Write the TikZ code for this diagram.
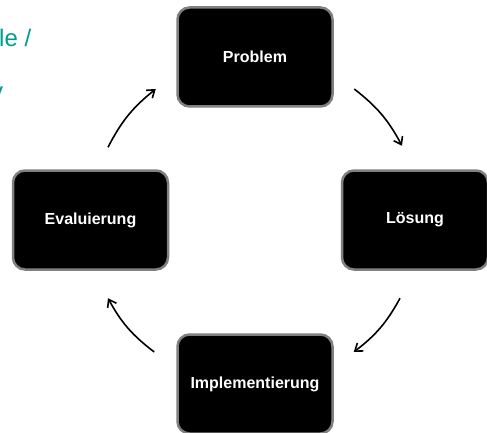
\documentclass[tikz,border=0pt]{standalone}
\usepackage{fontspec}
\setmainfont{Liberation Sans}
\usetikzlibrary{arrows.meta}
\usetikzlibrary{positioning}
\definecolor{titleteal}{RGB}{0,155,145}
\definecolor{boxgray}{RGB}{128,128,128}
\tikzset{stage/.style = {fill = black, draw = boxgray, line width = 2.5, rounded corners = 12, text = white, font = \bfseries\fontsize{16}{19}\selectfont, minimum width = 155, minimum height = 99, inner sep = 0}}
\tikzset{cyclearrow/.style = {-{Straight Barb[length = 7, width = 10]}, line width = 1.6, bend left = 12}}
\tikzset{titletext/.style = {text = titleteal, font = \fontsize{24}{28}\selectfont, inner sep = 0, anchor = base west}}

\begin{document}
\begin{tikzpicture}[x = 1pt, y = -1pt]
    \useasboundingbox (0, 0) rectangle (487, 433);
    \clip (0, 0) rectangle (487, 433);
    \node [titletext] (title1) at (-1, 47) {le /};
    \node [titletext] (title2) at (-9, 100) {v};
    \node [stage] (problem) at (255, 57) {Problem};
    \node [stage, minimum width = 146] (loesung) at (415, 220) {Lösung};
    \node [stage] (evaluierung) at (90.5, 220) {Evaluierung};
    \node [stage] (implementierung) at (255, 384) {Implementierung};
    \draw [cyclearrow] ([shift = {(17.5, -22)}] evaluierung.north) to ([shift = {(-20.5, 32)}] problem.west);
    \draw [cyclearrow] ([shift = {(20.5, 32)}] problem.east) to ([shift = {(-13, -23.5)}] loesung.north);
    \draw [cyclearrow] ([shift = {(-15, 27.5)}] loesung.south) to ([shift = {(20, -32)}] implementierung.east);
    \draw [cyclearrow] ([shift = {(-22, -32)}] implementierung.west) to ([shift = {(17.5, 27.5)}] evaluierung.south);
  \end{tikzpicture}
\end{document}
